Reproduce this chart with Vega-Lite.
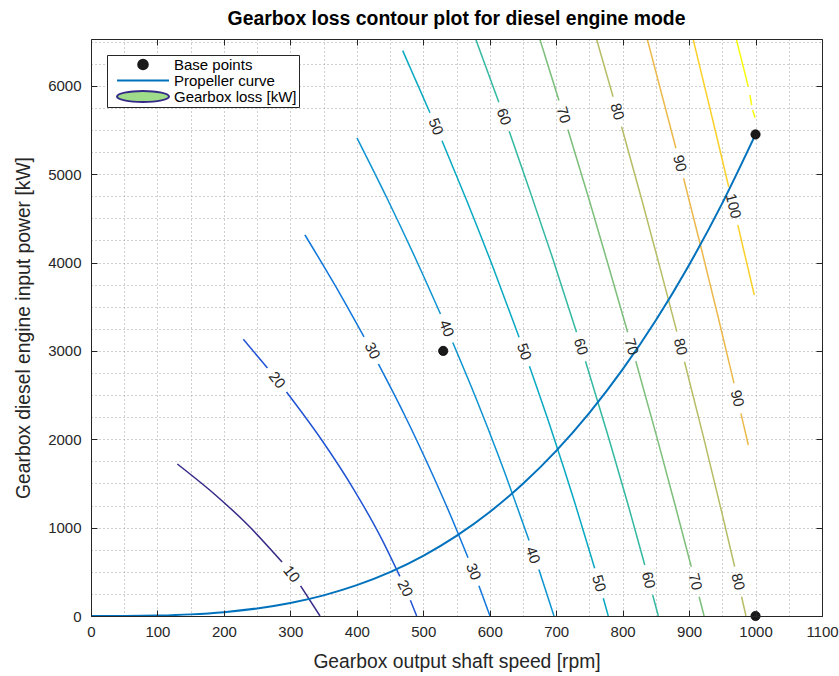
{
  "$schema": "https://vega.github.io/schema/vega-lite/v6.json",
  "width": 731,
  "height": 577,
  "autosize": {"type": "none"},
  "padding": {"left": 91, "top": 39, "right": 17, "bottom": 60},
  "background": "white",
  "title": {"text": "Gearbox loss contour plot for diesel engine mode", "font": "Liberation Sans", "fontSize": 19.4, "fontWeight": "bold", "color": "#000000", "anchor": "middle", "offset": 9},
  "config": {
    "view": {"stroke": null},
    "axis": {"labelFont": "Liberation Sans", "titleFont": "Liberation Sans", "labelFontSize": 15, "titleFontSize": 19.3, "labelColor": "#262626", "titleColor": "#262626", "titleFontWeight": "normal", "domainColor": "#262626", "tickColor": "#262626", "labelFlush": false, "labelOverlap": false, "format": "d"}
  },
  "datasets": {
    "contours": [
      {"level": 10, "seg": "10a", "x": 129.9, "y": 1720}, {"level": 10, "seg": "10a", "x": 185.5, "y": 1381}, {"level": 10, "seg": "10a", "x": 234.6, "y": 1041}, {"level": 10, "seg": "10a", "x": 287.5, "y": 611},
      {"level": 10, "seg": "10b", "x": 315.4, "y": 340}, {"level": 10, "seg": "10b", "x": 344.6, "y": 0},
      {"level": 20, "seg": "20a", "x": 229.2, "y": 3132}, {"level": 20, "seg": "20a", "x": 265.5, "y": 2807},
      {"level": 20, "seg": "20b", "x": 294.2, "y": 2535}, {"level": 20, "seg": "20b", "x": 346.4, "y": 2000}, {"level": 20, "seg": "20b", "x": 395.3, "y": 1434}, {"level": 20, "seg": "20b", "x": 437.7, "y": 868}, {"level": 20, "seg": "20b", "x": 464.8, "y": 449},
      {"level": 20, "seg": "20c", "x": 480.6, "y": 178}, {"level": 20, "seg": "20c", "x": 490.1, "y": 0},
      {"level": 30, "seg": "30a", "x": 322.0, "y": 4312}, {"level": 30, "seg": "30a", "x": 366.9, "y": 3746}, {"level": 30, "seg": "30a", "x": 410.8, "y": 3158},
      {"level": 30, "seg": "30b", "x": 432.5, "y": 2852}, {"level": 30, "seg": "30b", "x": 471.8, "y": 2275}, {"level": 30, "seg": "30b", "x": 507.4, "y": 1709}, {"level": 30, "seg": "30b", "x": 540.8, "y": 1143}, {"level": 30, "seg": "30b", "x": 567.3, "y": 660},
      {"level": 30, "seg": "30c", "x": 583.7, "y": 343}, {"level": 30, "seg": "30c", "x": 600.4, "y": 0},
      {"level": 40, "seg": "40a", "x": 400.3, "y": 5410}, {"level": 40, "seg": "40a", "x": 445.3, "y": 4731}, {"level": 40, "seg": "40a", "x": 488.0, "y": 4052}, {"level": 40, "seg": "40a", "x": 525.9, "y": 3418},
      {"level": 40, "seg": "40b", "x": 544.4, "y": 3095}, {"level": 40, "seg": "40b", "x": 579.2, "y": 2467}, {"level": 40, "seg": "40b", "x": 614.4, "y": 1788}, {"level": 40, "seg": "40b", "x": 659.2, "y": 854},
      {"level": 40, "seg": "40c", "x": 674.0, "y": 526}, {"level": 40, "seg": "40c", "x": 696.7, "y": 0},
      {"level": 50, "seg": "50a", "x": 469.0, "y": 6398}, {"level": 50, "seg": "50a", "x": 510.1, "y": 5696},
      {"level": 50, "seg": "50b", "x": 528.2, "y": 5379}, {"level": 50, "seg": "50b", "x": 565.5, "y": 4700}, {"level": 50, "seg": "50b", "x": 606.9, "y": 3908}, {"level": 50, "seg": "50b", "x": 644.2, "y": 3155},
      {"level": 50, "seg": "50c", "x": 659.7, "y": 2827}, {"level": 50, "seg": "50c", "x": 693.1, "y": 2097}, {"level": 50, "seg": "50c", "x": 727.1, "y": 1305}, {"level": 50, "seg": "50c", "x": 757.9, "y": 540},
      {"level": 50, "seg": "50d", "x": 770.9, "y": 200}, {"level": 50, "seg": "50d", "x": 778.4, "y": 0},
      {"level": 60, "seg": "60a", "x": 578.8, "y": 6530}, {"level": 60, "seg": "60a", "x": 613.7, "y": 5815},
      {"level": 60, "seg": "60b", "x": 629.3, "y": 5487}, {"level": 60, "seg": "60b", "x": 658.5, "y": 4852}, {"level": 60, "seg": "60b", "x": 694.2, "y": 4060}, {"level": 60, "seg": "60b", "x": 730.6, "y": 3212},
      {"level": 60, "seg": "60c", "x": 744.1, "y": 2884}, {"level": 60, "seg": "60c", "x": 778.7, "y": 2022}, {"level": 60, "seg": "60c", "x": 809.3, "y": 1230}, {"level": 60, "seg": "60c", "x": 833.3, "y": 577},
      {"level": 60, "seg": "60d", "x": 845.2, "y": 238}, {"level": 60, "seg": "60d", "x": 853.7, "y": 0},
      {"level": 70, "seg": "70a", "x": 675.3, "y": 6530}, {"level": 70, "seg": "70a", "x": 704.2, "y": 5834},
      {"level": 70, "seg": "70b", "x": 717.6, "y": 5506}, {"level": 70, "seg": "70b", "x": 748.5, "y": 4739}, {"level": 70, "seg": "70b", "x": 779.3, "y": 3946}, {"level": 70, "seg": "70b", "x": 807.5, "y": 3212},
      {"level": 70, "seg": "70c", "x": 819.8, "y": 2884}, {"level": 70, "seg": "70c", "x": 851.6, "y": 2022}, {"level": 70, "seg": "70c", "x": 879.8, "y": 1230}, {"level": 70, "seg": "70c", "x": 903.3, "y": 558},
      {"level": 70, "seg": "70d", "x": 915.1, "y": 218}, {"level": 70, "seg": "70d", "x": 922.6, "y": 0},
      {"level": 80, "seg": "80a", "x": 760.7, "y": 6530}, {"level": 80, "seg": "80a", "x": 785.6, "y": 5877},
      {"level": 80, "seg": "80b", "x": 798.4, "y": 5538}, {"level": 80, "seg": "80b", "x": 827.8, "y": 4739}, {"level": 80, "seg": "80b", "x": 856.1, "y": 3946}, {"level": 80, "seg": "80b", "x": 881.5, "y": 3218},
      {"level": 80, "seg": "80c", "x": 893.1, "y": 2878}, {"level": 80, "seg": "80c", "x": 921.8, "y": 2022}, {"level": 80, "seg": "80c", "x": 947.4, "y": 1230}, {"level": 80, "seg": "80c", "x": 968.6, "y": 558},
      {"level": 80, "seg": "80d", "x": 979.0, "y": 218}, {"level": 80, "seg": "80d", "x": 985.6, "y": 0},
      {"level": 90, "seg": "90a", "x": 837.0, "y": 6530}, {"level": 90, "seg": "90a", "x": 880.2, "y": 5293},
      {"level": 90, "seg": "90b", "x": 891.7, "y": 4954}, {"level": 90, "seg": "90b", "x": 917.9, "y": 4173}, {"level": 90, "seg": "90b", "x": 943.8, "y": 3381}, {"level": 90, "seg": "90b", "x": 967.6, "y": 2634},
      {"level": 90, "seg": "90c", "x": 978.0, "y": 2294}, {"level": 90, "seg": "90c", "x": 989.1, "y": 1935},
      {"level": 100, "seg": "100a", "x": 906.0, "y": 6530}, {"level": 100, "seg": "100a", "x": 934.6, "y": 5644}, {"level": 100, "seg": "100a", "x": 959.7, "y": 4855},
      {"level": 100, "seg": "100b", "x": 973.3, "y": 4425}, {"level": 100, "seg": "100b", "x": 998.1, "y": 3633},
      {"level": 110, "seg": "110a", "x": 971.0, "y": 6530}, {"level": 110, "seg": "110a", "x": 989.1, "y": 5990},
      {"level": 110, "seg": "110b", "x": 991.6, "y": 5896}, {"level": 110, "seg": "110b", "x": 994.2, "y": 5783},
      {"level": 110, "seg": "110c", "x": 995.7, "y": 5727}, {"level": 110, "seg": "110c", "x": 999.2, "y": 5639}
    ],
    "labels52": [
      {"level": 10, "x": 302.0, "y": 475}, {"level": 20, "x": 280.0, "y": 2671}
    ],
    "labels63": [
      {"level": 20, "x": 472.9, "y": 313}, {"level": 30, "x": 423.6, "y": 3002}
    ],
    "labels68": [
      {"level": 30, "x": 575.6, "y": 501}, {"level": 40, "x": 535.3, "y": 3256}, {"level": 50, "x": 519.1, "y": 5538}
    ],
    "labels71": [
      {"level": 40, "x": 665.1, "y": 690}, {"level": 50, "x": 652.0, "y": 2991}, {"level": 60, "x": 621.5, "y": 5651}
    ],
    "labels74": [
      {"level": 50, "x": 764.6, "y": 370}, {"level": 60, "x": 737.3, "y": 3048}, {"level": 70, "x": 711.0, "y": 5670},
      {"level": 70, "x": 813.6, "y": 3048}, {"level": 80, "x": 792.0, "y": 5707}
    ],
    "labels76": [
      {"level": 60, "x": 839.2, "y": 407}, {"level": 70, "x": 909.3, "y": 388}, {"level": 80, "x": 887.4, "y": 3048},
      {"level": 80, "x": 973.8, "y": 388}, {"level": 90, "x": 886.0, "y": 5123}, {"level": 90, "x": 972.8, "y": 2464},
      {"level": 100, "x": 966.5, "y": 4640}
    ],
    "propeller": [
      {"x": 0, "y": 0}, {"x": 50, "y": 0.7}, {"x": 100, "y": 5.5}, {"x": 150, "y": 18.4}, {"x": 200, "y": 43.6},
      {"x": 250, "y": 85.2}, {"x": 300, "y": 147.2}, {"x": 350, "y": 233.7}, {"x": 400, "y": 348.8}, {"x": 450, "y": 496.6},
      {"x": 500, "y": 681.3}, {"x": 550, "y": 906.8}, {"x": 600, "y": 1177.2}, {"x": 650, "y": 1496.7}, {"x": 700, "y": 1869.4},
      {"x": 750, "y": 2299.2}, {"x": 800, "y": 2790.4}, {"x": 850, "y": 3346.6}, {"x": 900, "y": 3973.1}, {"x": 950, "y": 4672.8},
      {"x": 1000, "y": 5450}
    ],
    "basepoints": [
      {"x": 530, "y": 3000}, {"x": 1000, "y": 5450}, {"x": 1000, "y": 0}
    ],
    "legendentries": []
  },
  "layer": [
    {
      "data": {"name": "contours"},
      "mark": {"type": "line", "strokeWidth": 1.5, "clip": true, "interpolate": "monotone"},
      "encoding": {
        "x": {"field": "x", "type": "quantitative", "scale": {"domain": [0, 1100], "nice": false, "zero": false},
          "axis": {"orient": "bottom", "values": [0,50,100,150,200,250,300,350,400,450,500,550,600,650,700,750,800,850,900,950,1000,1050,1100], "grid": true, "labels": false, "ticks": false, "domain": false, "title": null, "gridColor": "#a0a0a0", "gridDash": [1, 3], "gridWidth": 1, "zindex": 0}},
        "y": {"field": "y", "type": "quantitative", "scale": {"domain": [0, 6530], "nice": false, "zero": false},
          "axis": {"orient": "left", "values": [0,250,500,750,1000,1250,1500,1750,2000,2250,2500,2750,3000,3250,3500,3750,4000,4250,4500,4750,5000,5250,5500,5750,6000,6250,6500], "grid": true, "labels": false, "ticks": false, "domain": false, "title": null, "gridColor": "#a0a0a0", "gridDash": [1, 3], "gridWidth": 1, "zindex": 0}},
        "color": {"field": "level", "type": "ordinal",
          "scale": {"domain": [10,20,30,40,50,60,70,80,90,100,110], "range": ["#352a87","#2053d4","#0f77db","#0c93d2","#07a9c2","#33b8a1","#7cbf7b","#b7bd64","#ecb94c","#fad12b","#f9fb0e"]},
          "legend": null},
        "detail": {"field": "seg"}
      }
    },
    {
      "data": {"name": "propeller"},
      "mark": {"type": "line", "color": "#0072bd", "strokeWidth": 2, "clip": true, "interpolate": "monotone"},
      "encoding": {
        "x": {"field": "x", "type": "quantitative", "scale": {"domain": [0, 1100], "nice": false, "zero": false},
          "axis": {"orient": "bottom", "values": [0,100,200,300,400,500,600,700,800,900,1000,1100], "grid": false, "ticks": false, "labelPadding": 8, "domain": true, "title": "Gearbox output shaft speed [rpm]", "titlePadding": 13, "zindex": 1}},
        "y": {"field": "y", "type": "quantitative", "scale": {"domain": [0, 6530], "nice": false, "zero": false},
          "axis": {"orient": "left", "values": [0,1000,2000,3000,4000,5000,6000], "grid": false, "ticks": false, "labelPadding": 10, "domain": true, "title": "Gearbox diesel engine input power [kW]", "titlePadding": 14, "zindex": 1}}
      }
    },
    {
      "data": {"name": "basepoints"},
      "mark": {"type": "point", "filled": true, "color": "#1a1a1a", "opacity": 1, "size": 85, "stroke": "#000000", "strokeWidth": 0.8},
      "encoding": {
        "x": {"field": "x", "type": "quantitative", "scale": {"domain": [0, 1100], "nice": false, "zero": false},
          "axis": {"orient": "top", "values": [0,100,200,300,400,500,600,700,800,900,1000,1100], "grid": false, "labels": false, "ticks": true, "tickSize": -6, "domain": true, "title": null, "zindex": 1}},
        "y": {"field": "y", "type": "quantitative", "scale": {"domain": [0, 6530], "nice": false, "zero": false},
          "axis": {"orient": "right", "values": [0,1000,2000,3000,4000,5000,6000], "grid": false, "labels": false, "ticks": true, "tickSize": -6, "domain": true, "title": null, "zindex": 1}}
      }
    },
    {
      "data": {"name": "labels52"},
      "mark": {"type": "text", "angle": 52, "font": "Liberation Sans", "fontSize": 15, "color": "#262626", "align": "center", "baseline": "middle"},
      "encoding": {
        "x": {"field": "x", "type": "quantitative", "scale": {"domain": [0, 1100], "nice": false, "zero": false},
          "axis": {"orient": "bottom", "values": [0,100,200,300,400,500,600,700,800,900,1000,1100], "grid": false, "labels": false, "ticks": true, "tickSize": -6, "domain": false, "title": null, "zindex": 1}},
        "y": {"field": "y", "type": "quantitative", "scale": {"domain": [0, 6530], "nice": false, "zero": false},
          "axis": {"orient": "left", "values": [0,1000,2000,3000,4000,5000,6000], "grid": false, "labels": false, "ticks": true, "tickSize": -6, "domain": false, "title": null, "zindex": 1}},
        "text": {"field": "level", "type": "quantitative"}
      }
    },
    {
      "data": {"name": "labels63"},
      "mark": {"type": "text", "angle": 63, "font": "Liberation Sans", "fontSize": 15, "color": "#262626", "align": "center", "baseline": "middle"},
      "encoding": {
        "x": {"field": "x", "type": "quantitative", "scale": {"domain": [0, 1100], "nice": false, "zero": false}, "axis": null},
        "y": {"field": "y", "type": "quantitative", "scale": {"domain": [0, 6530], "nice": false, "zero": false}, "axis": null},
        "text": {"field": "level", "type": "quantitative"}
      }
    },
    {
      "data": {"name": "labels68"},
      "mark": {"type": "text", "angle": 68, "font": "Liberation Sans", "fontSize": 15, "color": "#262626", "align": "center", "baseline": "middle"},
      "encoding": {
        "x": {"field": "x", "type": "quantitative", "scale": {"domain": [0, 1100], "nice": false, "zero": false}, "axis": null},
        "y": {"field": "y", "type": "quantitative", "scale": {"domain": [0, 6530], "nice": false, "zero": false}, "axis": null},
        "text": {"field": "level", "type": "quantitative"}
      }
    },
    {
      "data": {"name": "labels71"},
      "mark": {"type": "text", "angle": 71, "font": "Liberation Sans", "fontSize": 15, "color": "#262626", "align": "center", "baseline": "middle"},
      "encoding": {
        "x": {"field": "x", "type": "quantitative", "scale": {"domain": [0, 1100], "nice": false, "zero": false}, "axis": null},
        "y": {"field": "y", "type": "quantitative", "scale": {"domain": [0, 6530], "nice": false, "zero": false}, "axis": null},
        "text": {"field": "level", "type": "quantitative"}
      }
    },
    {
      "data": {"name": "labels74"},
      "mark": {"type": "text", "angle": 74, "font": "Liberation Sans", "fontSize": 15, "color": "#262626", "align": "center", "baseline": "middle"},
      "encoding": {
        "x": {"field": "x", "type": "quantitative", "scale": {"domain": [0, 1100], "nice": false, "zero": false}, "axis": null},
        "y": {"field": "y", "type": "quantitative", "scale": {"domain": [0, 6530], "nice": false, "zero": false}, "axis": null},
        "text": {"field": "level", "type": "quantitative"}
      }
    },
    {
      "data": {"name": "labels76"},
      "mark": {"type": "text", "angle": 76, "font": "Liberation Sans", "fontSize": 15, "color": "#262626", "align": "center", "baseline": "middle"},
      "encoding": {
        "x": {"field": "x", "type": "quantitative", "scale": {"domain": [0, 1100], "nice": false, "zero": false}, "axis": null},
        "y": {"field": "y", "type": "quantitative", "scale": {"domain": [0, 6530], "nice": false, "zero": false}, "axis": null},
        "text": {"field": "level", "type": "quantitative"}
      }
    },
    {
      "data": {"name": "legendentries"},
      "mark": {"type": "point", "filled": true, "opacity": 1},
      "encoding": {
        "shape": {"field": "series", "type": "nominal",
          "scale": {"domain": ["Base points", "Propeller curve", "Gearbox loss [kW]"], "range": ["M-0.185,0A0.185,0.185,0,1,0,0.185,0A0.185,0.185,0,1,0,-0.185,0Z", "M-1,0L1,0", "M-1,0A1,0.21,0,1,0,1,0A1,0.21,0,1,0,-1,0Z"]},
          "legend": {"title": null, "orient": "none", "legendX": 16, "legendY": 16, "symbolSize": 2704, "clipHeight": 15, "rowPadding": 0, "padding": 2, "symbolOffset": 7, "labelOffset": 4, "symbolStrokeWidth": 2, "symbolOpacity": 1, "symbolFillColor": "white", "fillColor": "white", "strokeColor": "#262626", "labelFont": "Liberation Sans", "labelFontSize": 15, "labelColor": "#000000", "labelLimit": 300}},
        "fill": {"field": "series", "type": "nominal",
          "scale": {"domain": ["Base points", "Propeller curve", "Gearbox loss [kW]"], "range": ["#1a1a1a", "transparent", "#9fdc8a"]},
          "legend": {"title": null, "orient": "none", "legendX": 16, "legendY": 16, "symbolSize": 2704, "clipHeight": 15, "rowPadding": 0, "padding": 2, "symbolOffset": 7, "labelOffset": 4, "symbolStrokeWidth": 2, "symbolOpacity": 1, "symbolFillColor": "white", "fillColor": "white", "strokeColor": "#262626", "labelFont": "Liberation Sans", "labelFontSize": 15, "labelColor": "#000000", "labelLimit": 300}},
        "stroke": {"field": "series", "type": "nominal",
          "scale": {"domain": ["Base points", "Propeller curve", "Gearbox loss [kW]"], "range": ["#1a1a1a", "#0072bd", "#352a87"]},
          "legend": {"title": null, "orient": "none", "legendX": 16, "legendY": 16, "symbolSize": 2704, "clipHeight": 15, "rowPadding": 0, "padding": 2, "symbolOffset": 7, "labelOffset": 4, "symbolStrokeWidth": 2, "symbolOpacity": 1, "symbolFillColor": "white", "fillColor": "white", "strokeColor": "#262626", "labelFont": "Liberation Sans", "labelFontSize": 15, "labelColor": "#000000", "labelLimit": 300}}
      }
    }
  ],
  "resolve": {"axis": {"x": "independent", "y": "independent"}}
}
